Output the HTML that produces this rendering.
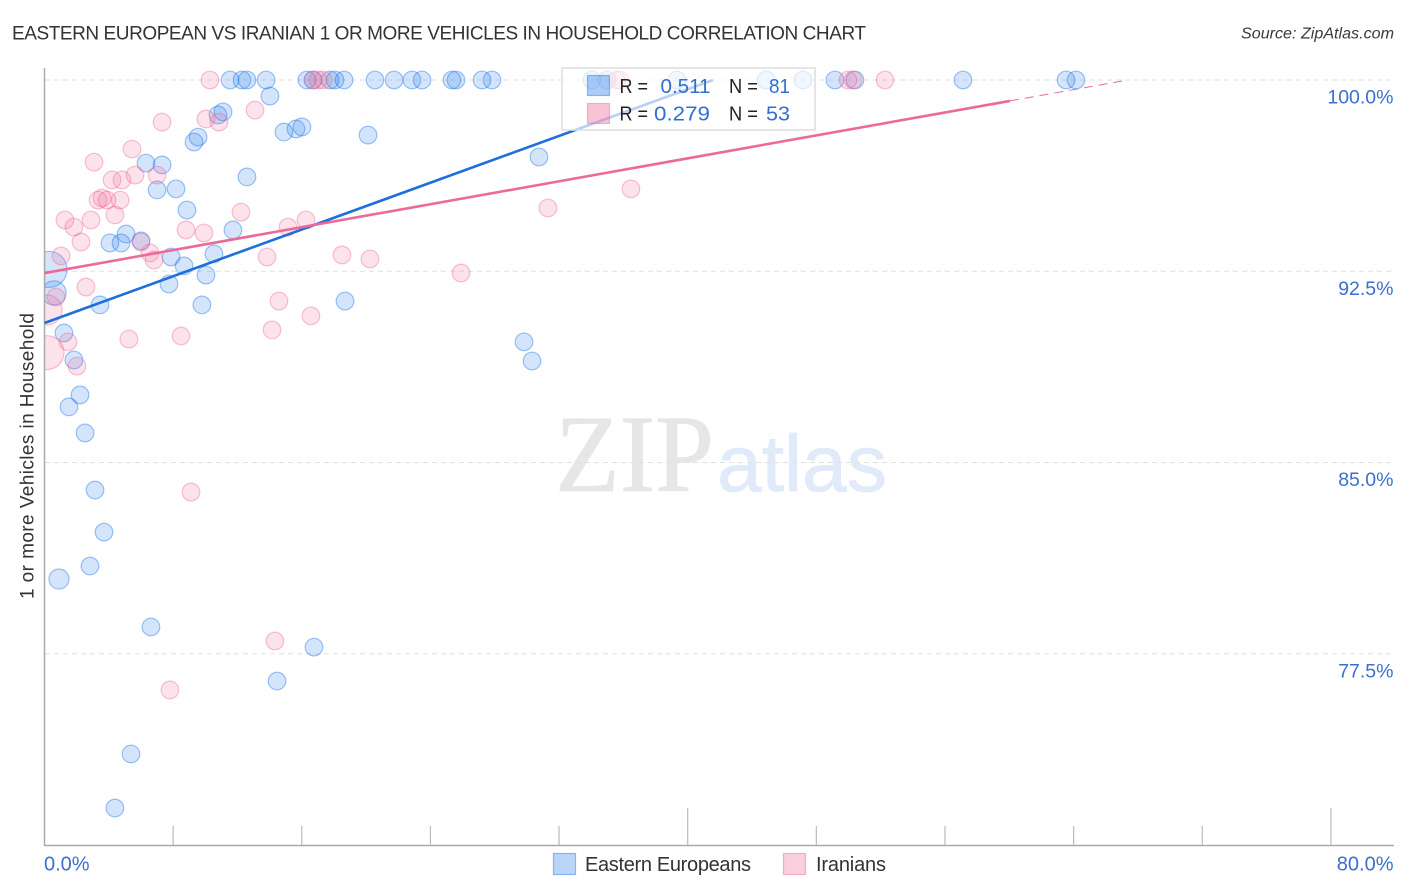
<!DOCTYPE html>
<html lang="en">
<head>
<meta charset="utf-8">
<title>Eastern European vs Iranian 1 or more Vehicles in Household Correlation Chart</title>
<style>
html,body{margin:0;padding:0;background:#fff;width:1406px;height:892px;overflow:hidden}
svg{display:block}
text{font-family:"Liberation Sans",sans-serif}
</style>
</head>
<body>
<svg id="chart" xmlns="http://www.w3.org/2000/svg" width="1406" height="892" viewBox="0 0 1406 892">
  <defs><clipPath id="plot-clip"><rect x="45" y="60" width="1350" height="786"/></clipPath></defs>
  <rect x="0" y="0" width="1406" height="892" fill="#fff"/>
  <text x="12" y="39.5" font-size="19" fill="#333" textLength="854" lengthAdjust="spacing">EASTERN EUROPEAN VS IRANIAN 1 OR MORE VEHICLES IN HOUSEHOLD CORRELATION CHART</text>
  <text x="1241" y="38.5" font-size="15.5" font-style="italic" fill="#3a3a3a" textLength="153" lengthAdjust="spacingAndGlyphs">Source: ZipAtlas.com</text>
  <g>
    <text x="555" y="491" font-size="110" fill="#e6e6e6" stroke="#e6e6e6" stroke-width="0.8" textLength="159" lengthAdjust="spacingAndGlyphs" style="font-family:'Liberation Serif',serif">ZIP</text>
    <text x="717" y="491" font-size="80" fill="#e0eaf9" stroke="#e0eaf9" stroke-width="0.8" textLength="170" lengthAdjust="spacingAndGlyphs">atlas</text>
  </g>
  <g id="grid"></g>
  <g id="axes"></g>
  <g id="points" clip-path="url(#plot-clip)"></g>
  <g id="trends"></g>
  <g>
    <rect x="562" y="68" width="253" height="62" fill="#fff" fill-opacity="0.68" stroke="#ddd" stroke-width="1.5"/>
    <rect x="587.5" y="75.5" width="22" height="20" fill="#1a73e8" fill-opacity="0.36" stroke="#1a73e8" stroke-opacity="0.45" stroke-width="1.2"/>
    <rect x="587.5" y="103.5" width="22" height="20" fill="#f06292" fill-opacity="0.38" stroke="#f06292" stroke-opacity="0.45" stroke-width="1.2"/>
    <text x="619.5" y="93" font-size="20" fill="#222" textLength="28.5" lengthAdjust="spacingAndGlyphs">R =</text>
    <text x="660.5" y="93" font-size="20.5" fill="#2f6fd1" textLength="50" lengthAdjust="spacingAndGlyphs">0.511</text>
    <text x="729" y="93" font-size="20" fill="#222" textLength="29" lengthAdjust="spacingAndGlyphs">N =</text>
    <text x="769" y="93" font-size="20.5" fill="#2f6fd1" textLength="21" lengthAdjust="spacingAndGlyphs">81</text>
    <text x="619.5" y="120.5" font-size="20" fill="#222" textLength="28.5" lengthAdjust="spacingAndGlyphs">R =</text>
    <text x="654" y="120.5" font-size="20.5" fill="#2f6fd1" textLength="56" lengthAdjust="spacingAndGlyphs">0.279</text>
    <text x="729" y="120.5" font-size="20" fill="#222" textLength="29" lengthAdjust="spacingAndGlyphs">N =</text>
    <text x="766" y="120.5" font-size="20.5" fill="#2f6fd1" textLength="24" lengthAdjust="spacingAndGlyphs">53</text>
  </g>
  <text transform="translate(33.5,456) rotate(-90)" text-anchor="middle" font-size="19" fill="#333" textLength="286" lengthAdjust="spacing">1 or more Vehicles in Household</text>
  <g>
    <g>
      <rect x="553.5" y="853.5" width="22" height="21" fill="#1a73e8" fill-opacity="0.3" stroke="#1a73e8" stroke-opacity="0.45" stroke-width="1.2"/>
      <text x="585" y="871" font-size="20" fill="#333" textLength="166" lengthAdjust="spacing">Eastern Europeans</text>
    </g>
    <g>
      <rect x="783.5" y="853.5" width="22" height="21" fill="#f06292" fill-opacity="0.3" stroke="#f06292" stroke-opacity="0.45" stroke-width="1.2"/>
      <text x="816" y="871" font-size="20" fill="#333" textLength="70" lengthAdjust="spacing">Iranians</text>
    </g>
  </g>
</svg>
<script>
// ---- chart data (percent units) ----
const yTickValues = [100, 92.5, 85, 77.5];
const yTickLabels = ["100.0%", "92.5%", "85.0%", "77.5%"];
const xTickValues = [0, 8, 16, 24, 32, 40, 48, 56, 64, 72, 80];
const xMajorTicks = [0, 40, 80];
const xEndLabels = ["0.0%", "80.0%"];

const easternX = [0.28,0.59,0.90,
  11.54,12.28,12.59,13.78,16.32,16.70,17.76,18.07,18.63,20.55,21.74,22.85,23.48,25.34,25.59,27.21,27.83,34.05,34.98,39.33,44.87,47.17,49.16,50.40,57.12,63.53,64.15,
  14.02,11.10,10.79,9.55,9.30,16.01,15.64,14.89,20.12,6.31,7.31,30.75,12.59,7.00,8.18,8.86,11.72,5.07,4.07,4.76,6.00,10.54,7.87,8.68,10.04,7.74,18.69,9.79,3.45,
  1.21,1.83,29.82,30.32,2.21,1.52,2.52,3.14,3.70,2.83,6.62,16.76,14.46,5.38,4.38];
const easternY = [92.57,91.65,80.43,
  100,100,100,100,100,100,100,100,100,100,100,100,100,100,100,100,100,100,100,100,100,100,100,100,100,100,100,
  99.37,98.75,98.63,97.76,97.57,98.16,98.08,97.96,97.84,96.74,96.67,96.98,96.20,95.69,95.73,94.90,94.12,93.96,93.61,93.61,93.69,93.18,93.06,92.71,92.35,92.00,91.33,91.18,91.18,
  90.08,89.02,89.73,88.98,87.65,87.18,86.16,83.92,82.27,80.94,78.55,77.76,76.43,73.57,71.45];
const easternWeights = [4.2,1.9,1.3];

const iranianX = [0.16,0.16,
  10.29,16.70,17.01,17.32,35.60,35.79,49.97,50.28,52.27,
  13.09,7.31,10.04,10.85,5.44,3.08,4.20,4.82,5.63,7.00,3.33,3.58,3.89,4.70,4.38,1.27,2.89,1.83,2.27,1.03,6.00,6.56,6.81,8.80,9.92,12.22,15.14,16.26,13.84,18.50,20.24,25.90,31.31,36.47,
  2.58,0.72,14.58,16.57,14.15,5.25,8.49,1.46,2.02,9.11,14.33,7.80];
const iranianY = [90.98,89.31,
  100,100,100,100,100,100,100,100,100,
  98.82,98.35,98.47,98.35,97.29,96.78,96.08,96.08,96.27,96.27,95.29,95.37,95.29,95.29,94.71,94.51,94.51,94.23,93.65,93.10,93.65,93.22,92.94,94.12,94.00,94.82,94.23,94.51,93.06,93.14,92.98,92.43,94.98,95.73,
  91.88,91.49,91.33,90.75,90.20,89.84,89.96,89.73,88.78,83.84,78.00,76.08];
const iranianWeights = [2.9,3.7];

const easternTrendX = [0, 41.57];
const easternTrendY = [90.47, 100];
const iranianTrendX = [0, 60.04];
const iranianTrendY = [92.43, 99.18];
const iranianTrendExtX = [60.04, 67.38];
const iranianTrendExtY = [99.18, 100];

// ---- axis functions ----
const xPos = v => 44.5 + v * 16.08;
const yPos = v => 80 + (100 - v) * 25.5;
const radius = w => 8.8 * Math.sqrt(w);

const NS = "http://www.w3.org/2000/svg";
function make(tag, parent, attrs) {
  const el = document.createElementNS(NS, tag);
  for (const k in attrs) el.setAttribute(k, attrs[k]);
  parent.appendChild(el);
  return el;
}
const gridG = document.getElementById("grid");
const axesG = document.getElementById("axes");
const pointsG = document.getElementById("points");
const trendsG = document.getElementById("trends");

// gridlines and y tick labels
yTickValues.forEach((v, i) => {
  const line = make("line", gridG, {x1: 45, x2: 1393, y1: yPos(v), y2: yPos(v), stroke: "#e0e0e0", "stroke-width": 1, "stroke-dasharray": "5 4"});
  
  
  const t = make("text", axesG, {x: 1393.5, y: yPos(v) + 23.5, "text-anchor": "end", "font-size": 19.5, fill: "#3a70d0"});
  
  
  t.textContent = yTickLabels[i];
});

// axis lines
const yAxis = make("line", axesG, {x1: 44.5, x2: 44.5, y1: 68, y2: 846, stroke: "#aaa", "stroke-width": 1.5});


const xAxis = make("line", axesG, {x1: 44, x2: 1394, y1: 845.5, y2: 845.5, stroke: "#aaa", "stroke-width": 1.5});



// x ticks
xTickValues.forEach(v => {
  if (v === 0) return;
  const top = xMajorTicks.includes(v) ? 808 : 826;
  const tick = make("line", axesG, {x1: xPos(v), x2: xPos(v), y1: top, y2: 845, stroke: "#bbb", "stroke-width": 1.2});
  
  
});
const xLabelLeft = make("text", axesG, {x: 44, y: 870.5, "font-size": 20, fill: "#3a70d0"});


xLabelLeft.textContent = xEndLabels[0];
const xLabelRight = make("text", axesG, {x: 1393.5, y: 870.5, "text-anchor": "end", "font-size": 20, fill: "#3a70d0"});


xLabelRight.textContent = xEndLabels[1];

// points
easternX.forEach((v, i) => {
  const w = i < easternWeights.length ? easternWeights[i] : 1;
  const c = make("circle", pointsG, {cx: xPos(v), cy: yPos(easternY[i]), r: radius(w), fill: "#1a73e8", "fill-opacity": 0.19, stroke: "#1a73e8", "stroke-opacity": 0.42, "stroke-width": 1.2});
  
  
});
iranianX.forEach((v, i) => {
  const w = i < iranianWeights.length ? iranianWeights[i] : 1;
  const c = make("circle", pointsG, {cx: xPos(v), cy: yPos(iranianY[i]), r: radius(w), fill: "#f06292", "fill-opacity": 0.18, stroke: "#f06292", "stroke-opacity": 0.4, "stroke-width": 1.2});
  
  
});

// trend lines
const blueTrend = make("line", trendsG, {x1: xPos(easternTrendX[0]), y1: yPos(easternTrendY[0]), x2: xPos(easternTrendX[1]), y2: yPos(easternTrendY[1]), stroke: "#1f6fd8", "stroke-width": 2.6});


const pinkTrend = make("line", trendsG, {x1: xPos(iranianTrendX[0]), y1: yPos(iranianTrendY[0]), x2: xPos(iranianTrendX[1]), y2: yPos(iranianTrendY[1]), stroke: "#ec6a98", "stroke-width": 2.6});


const pinkExt = make("line", trendsG, {x1: xPos(iranianTrendExtX[0]), y1: yPos(iranianTrendExtY[0]), x2: xPos(iranianTrendExtX[1]), y2: yPos(iranianTrendExtY[1]), stroke: "#ec6a98", "stroke-width": 1, "stroke-dasharray": "9 6"});


</script>
</body>
</html>
